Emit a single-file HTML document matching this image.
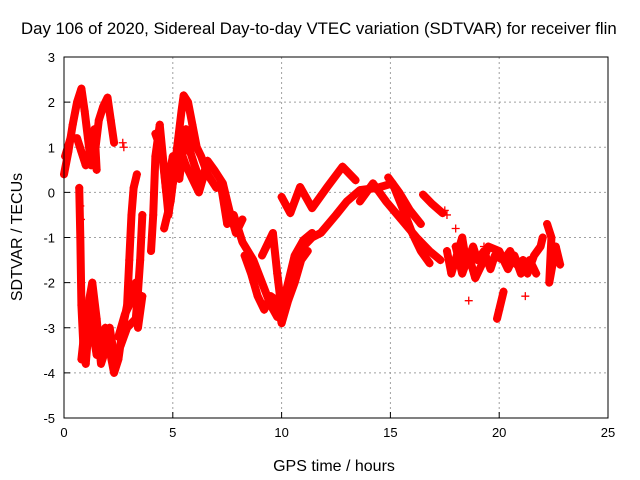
<!DOCTYPE html>
<html><head><meta charset="utf-8"><style>
body{margin:0;background:#fff}
svg{display:block;font-family:"Liberation Sans",sans-serif}
</style></head><body>
<svg id="c" width="640" height="480"></svg>
<script>
const xTicks=[0,5,10,15,20,25];
const yTicks=[-5,-4,-3,-2,-1,0,1,2,3];
const trackEarly=[[0,0.4],[0.2,0.9],[0.4,1.5],[0.6,2.0],[0.8,2.3],[0.95,1.8],[1.1,1.2],[1.25,0.6],[1.45,1.0],[1.6,1.6],[1.8,1.9],[2.0,2.1],[2.15,1.6],[2.3,1.1]];
const trackEarly2=[[0.05,0.8],[0.3,1.2],[0.6,1.2],[0.8,0.9],[1.0,0.6],[1.2,0.9],[1.4,1.4],[1.5,0.5]];
const trackLow=[[0.7,0.1],[0.75,-1],[0.8,-2.5],[0.9,-3.5],[1.0,-3.8],[1.1,-3.2],[1.2,-2.5],[1.3,-3.0],[1.5,-3.6],[1.7,-3.3],[1.9,-3.0],[2.1,-3.5],[2.3,-4.0],[2.5,-3.7],[2.7,-3.0],[2.9,-2.5],[3.0,-1.5],[3.1,-0.5],[3.2,0.1],[3.35,0.4]];
const trackLow2=[[0.8,-3.7],[1.0,-2.8],[1.3,-2.0],[1.5,-2.8],[1.7,-3.8],[1.9,-3.5],[2.1,-3.0],[2.3,-3.6],[2.6,-3.4],[2.9,-3.0],[3.3,-2.8],[3.4,-2.2],[3.5,-1.5],[3.6,-0.5]];
const trackLow3=[[2.5,-3.2],[2.8,-2.7],[3.0,-2.5],[3.3,-2.0],[3.4,-3.0],[3.6,-2.3]];
const trackMain=[[4.0,-1.3],[4.1,-0.5],[4.2,0.8],[4.4,1.5],[4.6,0.5],[4.8,-0.5],[5.0,0.2],[5.2,1.0],[5.4,1.8],[5.5,2.15],[5.7,2.0],[5.9,1.5],[6.1,1.0],[6.3,0.8],[6.6,0.4],[7.0,0.1],[7.2,0.2],[7.5,-0.7],[7.8,-0.5],[8.2,-1.1],[8.7,-1.5],[9.1,-2.0],[9.5,-2.5],[9.8,-2.76],[10.1,-2.7],[10.4,-2.1],[10.7,-1.6],[11.0,-1.2],[11.4,-1.0],[11.8,-0.9],[12.5,-0.5],[13.0,-0.2],[13.6,0.05],[14.4,0.1],[15.1,0.2],[15.6,-0.4],[16.0,-0.9],[16.4,-1.3],[16.8,-1.57]];
const trackMain2=[[4.6,-0.8],[4.9,-0.2],[5.1,0.6],[5.3,1.0],[5.6,0.6],[5.9,0.3],[6.2,0.0],[6.5,0.5]];
const trackMain3=[[4.2,1.3],[4.5,0.9],[4.7,0.0],[5.0,0.8],[5.3,0.3],[5.6,1.4],[5.8,0.9],[6.0,0.6],[6.3,0.2],[6.6,0.7],[6.9,0.5],[7.3,0.2],[7.6,-0.4],[7.9,-0.9],[8.2,-0.6]];
const trackMain4=[[8.3,-1.4],[8.6,-1.8],[8.9,-2.3],[9.2,-2.6],[9.5,-2.3],[9.8,-2.4],[10.0,-2.9],[10.3,-2.4],[10.6,-2.0],[10.9,-1.5],[11.2,-1.3]];
const trackDip=[[9.1,-1.4],[9.4,-1.1],[9.6,-0.9],[9.8,-1.8],[10.0,-2.6],[10.3,-2.0],[10.6,-1.4],[11.0,-1.06],[11.4,-0.9]];
const trackWave=[[10.0,-0.1],[10.4,-0.46],[10.85,0.12],[11.4,-0.35],[12.1,0.12],[12.8,0.57],[13.4,0.27]];
const trackBranch=[[13.6,-0.2],[14.2,0.2],[14.8,-0.2],[15.5,-0.6],[16.2,-1.0],[16.8,-1.3],[17.3,-1.5]];
const trackStreak1=[[14.9,0.33],[15.4,0.0],[15.9,-0.4],[16.4,-0.7]];
const trackStreak2=[[16.5,-0.05],[16.9,-0.25],[17.4,-0.46]];
const trackRight=[[17.6,-1.3],[17.8,-1.8],[18.3,-1.0],[18.5,-1.6],[18.8,-1.2],[19.0,-1.5],[19.3,-1.3],[19.6,-1.7],[19.8,-1.4],[20.2,-1.5],[20.5,-1.3],[20.8,-1.6],[21.1,-1.5],[21.3,-1.8],[21.6,-1.4],[21.9,-1.2],[22.0,-1.0]];
const trackRight2=[[18.0,-1.2],[18.3,-1.8],[18.6,-1.4],[18.9,-1.9],[19.2,-1.6],[19.5,-1.2],[20.0,-1.3],[20.4,-1.7],[20.7,-1.4],[21.0,-1.8],[21.4,-1.5],[21.7,-1.8]];
const trackDrop=[[19.9,-2.8],[20.0,-2.6],[20.2,-2.2]];
const trackEnd=[[22.2,-0.7],[22.4,-1.0],[22.3,-2.0],[22.6,-1.2],[22.8,-1.6]];
const singles=[[17.5,-0.4],[17.6,-0.5],[18.0,-0.8],[18.6,-2.4],[19.3,-1.2],[21.2,-2.3],[0.75,-0.3],[0.78,-0.6],[2.7,1.1],[2.75,1.0]];
const tracks=[trackEarly,trackEarly2,trackLow,trackLow2,trackLow3,trackMain,trackMain2,trackMain3,trackMain4,trackDip,trackWave,trackBranch,trackStreak1,trackStreak2,trackRight,trackRight2,trackDrop,trackEnd];

const L=64,R=608,T=57,B=418;
const xs=v=>L+(v-0)/(25-0)*(R-L);
const ys=v=>B-(v+5)/8*(B-T);
const NS='http://www.w3.org/2000/svg';
const svg=document.getElementById('c');
function mk(tag,a,parent){const e=document.createElementNS(NS,tag);for(const k in a)e.setAttribute(k,a[k]);(parent||svg).appendChild(e);return e;}

const grid=mk('g',{});


xTicks.forEach(t=>{
  if(t>0&&t<25){const l=mk('line',{x1:xs(t),x2:xs(t),y1:T,y2:B,stroke:'#a0a0a0','stroke-dasharray':'2,3'},grid);}
  const tl=mk('line',{x1:xs(t),x2:xs(t),y1:B,y2:B-6,stroke:'#000'});
  
  
  const tx=mk('text',{x:xs(t),y:B+19,'text-anchor':'middle','font-size':13});
  tx.textContent=t;
  
  
});
yTicks.forEach(t=>{
  if(t>-5&&t<3){const l=mk('line',{x1:L,x2:R,y1:ys(t),y2:ys(t),stroke:'#a0a0a0','stroke-dasharray':'2,3'},grid);}
  const tl=mk('line',{x1:L,x2:L+6,y1:ys(t),y2:ys(t),stroke:'#000'});
  
  
  const tx=mk('text',{x:L-9,y:ys(t)+5,'text-anchor':'end','font-size':13});
  tx.textContent=t;
  
  
});

const series=mk('g',{});


function plus(p){
  const x=xs(p[0]),y=ys(p[1]);
  const m=mk('path',{d:`M${x-4} ${y}H${x+4}M${x} ${y-4}V${y+4}`,stroke:'#f00','stroke-width':1.3},series);
  
  
}
tracks.forEach(tr=>{
  const pl=mk('polyline',{points:tr.map(p=>xs(p[0])+','+ys(p[1])).join(' '),fill:'none',stroke:'#f00','stroke-width':8,'stroke-linejoin':'round','stroke-linecap':'round'},series);
  
  
  tr.forEach(plus);
});
singles.forEach(plus);

const fr=mk('rect',{x:L,y:T,width:R-L,height:B-T,fill:'none',stroke:'#000'});



const title=mk('text',{x:21,y:34,'font-size':16.8});
title.textContent='Day 106 of 2020, Sidereal Day-to-day VTEC variation (SDTVAR) for receiver flin';


const xl=mk('text',{x:334,y:471,'text-anchor':'middle','font-size':16});
xl.textContent='GPS time / hours';


const yl=mk('text',{x:0,y:0,'text-anchor':'middle','font-size':16,transform:'translate(22,237) rotate(-90)'});
yl.textContent='SDTVAR / TECUs';


</script>
</body></html>
